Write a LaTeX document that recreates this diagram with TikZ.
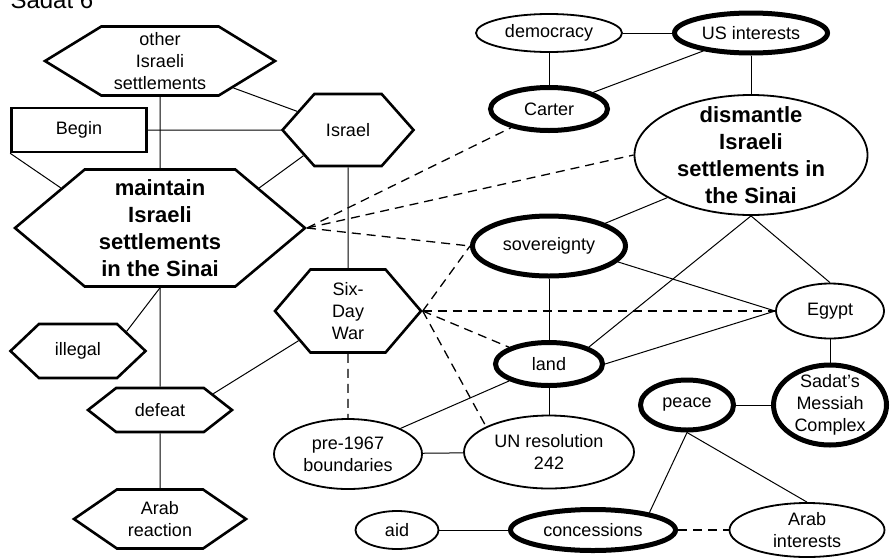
\documentclass[tikz,border=0pt]{standalone}
\usepackage{fontspec}
\setmainfont{Liberation Sans}
\usetikzlibrary{positioning, shapes.geometric, shapes.symbols}
\tikzset{%
	hex/.style={draw, shape=signal, signal to=east and west, inner sep=0pt,%
		line width=2.6pt, align=center},
	oval/.style={draw, ellipse, inner sep=0pt, line width=1.8pt, align=center},
	rectbox/.style={draw, rectangle, line width=2.6pt},
	focus/.style={line width=5pt},
	heavy/.style={font=\bfseries\fontsize{22}{27}\selectfont},
	dims/.style 2 args={minimum width=#1, minimum height=#2},
	link/.style={line width=1pt},
	hint/.style={line width=1.3pt, dash pattern=on 9pt off 6pt}
}

\begin{document}
\begin{tikzpicture}[x=1pt, y=-1pt, on grid, font=\fontsize{18}{22}\selectfont]
	\useasboundingbox (0,0) rectangle (890,557);
	\node[font=\fontsize{24}{28}\selectfont, anchor=base west] (title) at (7,8) {Sadat 6};

	% left side
	\node[hex, dims={230pt}{69pt}, signal pointer angle=63] (other) at (160,61) {other\\Israeli\\settlements};
	\node[rectbox, dims={135pt}{44pt}] (begin) at (79,130) {Begin};
	\node[hex, dims={131pt}{72pt}, signal pointer angle=97] (israel) at (348,130) {Israel};
	\node[hex, heavy, dims={290pt}{117pt}, signal pointer angle=80, below=167pt of other] (maintain) {maintain\\Israeli\\settlements\\in the Sinai};
	\node[hex, dims={135pt}{54pt}, signal pointer angle=87, below left=123pt and 82pt of maintain] (illegal) {illegal};
	\node[hex, dims={144pt}{44pt}, signal pointer angle=76, below=182pt of maintain] (defeat) {defeat};
	\node[hex, dims={172pt}{59pt}, signal pointer angle=69, below=109pt of defeat] (arabreact) {Arab\\reaction};
	\node[hex, dims={146pt}{83pt}, signal pointer angle=99, below=181pt of israel] (sixday) {Six-\\Day\\War};
	\node[oval, dims={148pt}{70pt}, below=143pt of sixday] (pre) {pre-1967\\boundaries};
	\node[oval, dims={83pt}{38pt}, below right=76pt and 49pt of pre] (aid) {aid};

	% right side
	\node[oval, dims={146pt}{38pt}] (democracy) at (549,33) {democracy};
	\node[oval, focus, dims={153pt}{40pt}, right=202pt of democracy] (us) {US interests};
	\node[oval, focus, dims={117pt}{43pt}, below=76pt of democracy] (carter) {Carter};
	\node[oval, heavy, inner ysep=-10pt, dims={233pt}{120pt}, below=122pt of us] (dismantle) {dismantle\\Israeli\\settlements in\\the Sinai};
	\node[oval, focus, dims={153pt}{60pt}, below=137pt of carter] (sovereignty) {sovereignty};
	\node[oval, focus, dims={107pt}{43pt}, below=118pt of sovereignty] (land) {land};
	\node[oval, dims={170pt}{73pt}, below=88pt of land] (un) {UN resolution\\242};
	\node[oval, dims={108pt}{55pt}] (egypt) at (830,311) {Egypt};
	\node[oval, focus, inner ysep=-4pt, dims={113pt}{80pt}, below=94pt of egypt] (sadat) {Sadat's\\Messiah\\Complex};
	\node[oval, focus, dims={93pt}{50pt}, left=143pt of sadat] (peace) {peace};
	\node[oval, focus, dims={165pt}{41pt}, right=196pt of aid] (concessions) {concessions};
	\node[oval, inner ysep=-2pt, dims={155pt}{54pt}, right=214pt of concessions] (arabint) {Arab\\interests};

	% solid links
	\draw[link] (other) -- (israel);
	\draw[link] (other) -- (maintain);
	\draw[link] (begin) -- (israel);
	\draw[link] (begin.south west) -- (maintain.158);
	\draw[link] (israel.210) -- (maintain.22);
	\draw[link] (israel) -- (sixday);
	\draw[link] (maintain.south) -- (illegal.22);
	\draw[link] (maintain) -- (defeat);
	\draw[link] (defeat) -- (arabreact);
	\draw[link] (defeat.17) -- (sixday.211);
	\draw[link] (pre.26) -- (land.203);
	\draw[link] (pre) -- (un);
	\draw[link] (land) -- (un);
	\draw[link] (sovereignty) -- (land);
	\draw[link] (sovereignty.22) -- (dismantle.207);
	\draw[link] (sovereignty.347) -- (egypt.west);
	\draw[link] (dismantle.south) -- (land.23);
	\draw[link] (dismantle.south) -- (egypt.north);
	\draw[link] (land.east) -- (egypt.west);
	\draw[link] (egypt) -- (sadat);
	\draw[link] (peace) -- (sadat);
	\draw[link] (peace.south) -- (concessions.17);
	\draw[link] (peace.south) -- (arabint.north);
	\draw[link] (aid) -- (concessions);
	\draw[link] (democracy) -- (us);
	\draw[link] (democracy) -- (carter);
	\draw[link] (us) -- (carter);
	\draw[link] (us) -- (dismantle);

	% dashed links
	\draw[hint] (maintain.east) -- (carter);
	\draw[hint] (maintain.east) -- (dismantle.west);
	\draw[hint] (maintain.east) -- (sovereignty.west);
	\draw[hint] (sixday.east) -- (sovereignty.west);
	\draw[hint] (sixday.east) -- (egypt.west);
	\draw[hint] (sixday.east) -- (land);
	\draw[hint] (sixday.east) -- (un.158);
	\draw[hint] (sixday) -- (pre);
	\draw[hint] (concessions) -- (arabint);
\end{tikzpicture}
\end{document}
